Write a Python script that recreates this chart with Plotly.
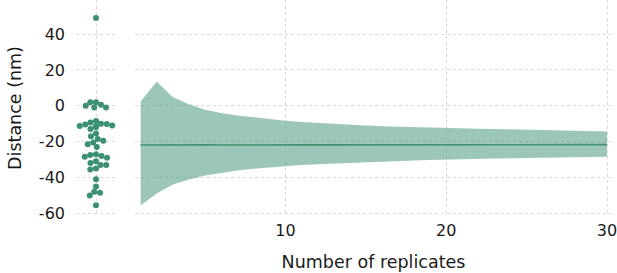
import numpy as np
import plotly.graph_objects as go

# ---- data ----
distances = [49, 2, 2, 0.5, 0, -1, -1,
             -8.5, -9.3, -10, -10.2, -10.5, -11, -11.3, -11.5, -12, -13,
             -15.5, -17, -18.5, -19.5, -20.5, -21.5, -23,
             -27, -27.5, -28, -28.5, -29, -31, -32, -33, -33, -35, -35.5,
             -41, -45, -48, -48.5, -50, -55.5]

replicates = list(range(1, 31))
upper = [2.4, 13.5, 4.8, 0.9, -2.2, -4.1, -5.4, -6.5, -7.5, -8.3,
         -9.0, -9.6, -10.1, -10.6, -11.0, -11.4, -11.7, -12.0, -12.2, -12.4,
         -12.6, -12.8, -13.0, -13.2, -13.4, -13.6, -13.8, -14.0, -14.2, -14.3]
lower = [-55.6, -48.9, -43.9, -41.1, -38.9, -37.4, -36.1, -35.2, -34.4, -33.7,
         -33.1, -32.6, -32.2, -31.8, -31.5, -31.2, -30.9, -30.6, -30.3, -30.0,
         -29.8, -29.6, -29.4, -29.3, -29.1, -29.0, -28.9, -28.8, -28.6, -28.5]
mean_line = [-21.9, -21.8, -21.9, -21.8, -21.8, -21.9, -21.8, -21.8, -21.8, -21.8,
             -21.8, -21.8, -21.8, -21.8, -21.8, -21.8, -21.8, -21.8, -21.8, -21.8,
             -21.8, -21.8, -21.8, -21.8, -21.8, -21.8, -21.8, -21.8, -21.7, -21.7]

y_ticks = [40, 20, 0, -20, -40, -60]
x_ticks = [10, 20, 30]

# ---- layout constants ----
W, H = 617, 273
ML, MR, MT, MB = 76, 5, 0, 57
plot_w = W - ML - MR
plot_h = H - MT - MB
y_range = [-61.5, 59]
left_px = 40
left_dom = [0, left_px / plot_w]
right_dom = [(135 - ML) / plot_w, 1.0]
px_per_unit_y = plot_h / (y_range[1] - y_range[0])
left_x_range = [-1, 1]
px_per_unit_x = left_px / (left_x_range[1] - left_x_range[0])

# ---- beeswarm layout (computed) ----
dot_d = 5.6
order = np.argsort(distances)[::-1]
placed = []
xs = np.zeros(len(distances))
cands = sorted(np.arange(-18, 18.01, 0.25), key=lambda v: (abs(v), v))
for i in order:
    ypx = distances[i] * px_per_unit_y
    for c in cands:
        ok = True
        for (px, py) in placed:
            if (px - c) ** 2 + (py - ypx) ** 2 < dot_d ** 2:
                ok = False
                break
        if ok:
            xs[i] = c
            placed.append((c, ypx))
            break
xs_units = xs / px_per_unit_x

green = "rgb(58,144,112)"
band = "rgba(58,144,112,0.5)"
grid = "#d9d9d9"
font = "DejaVu Sans"

fig = go.Figure()
fig.add_trace(go.Scatter(x=list(xs_units), y=distances, mode="markers",
                         marker=dict(color=green, size=6, line=dict(width=0)),
                         xaxis="x", yaxis="y", showlegend=False, cliponaxis=False))
fig.add_trace(go.Scatter(x=replicates, y=upper, mode="lines", line=dict(width=0),
                         xaxis="x2", yaxis="y2", showlegend=False))
fig.add_trace(go.Scatter(x=replicates, y=lower, mode="lines", line=dict(width=0),
                         fill="tonexty", fillcolor=band,
                         xaxis="x2", yaxis="y2", showlegend=False))
fig.add_trace(go.Scatter(x=replicates, y=mean_line, mode="lines",
                         line=dict(color="rgb(66,146,114)", width=1.6),
                         xaxis="x2", yaxis="y2", showlegend=False))

axis_common = dict(showline=False, zeroline=False, gridcolor=grid, griddash="dot",
                   gridwidth=1, automargin=False, ticklabeloverflow="allow",
                   tickfont=dict(family=font, size=16, color="#1a1a1a"))

fig.update_layout(
    width=W, height=H,
    margin=dict(l=ML, r=MR, t=MT, b=MB, autoexpand=False),
    paper_bgcolor="white", plot_bgcolor="white",
    font=dict(family=font, color="#1a1a1a"),
    xaxis=dict(domain=left_dom, range=left_x_range, tickvals=[0], ticktext=[""],
               showgrid=True, **axis_common),
    yaxis=dict(range=y_range, tickvals=y_ticks, ticktext=[str(v) for v in y_ticks],
               title=dict(text="Distance (nm)", font=dict(family=font, size=17.5), standoff=12),
               ticks="", ticklabelstandoff=10, **axis_common),
    xaxis2=dict(domain=right_dom, range=[0.65, 30.31], tickvals=x_ticks,
                ticktext=[str(v) for v in x_ticks], anchor="y2",
                title=dict(text="Number of replicates", font=dict(family=font, size=17.5), standoff=16),
                ticks="", ticklabelstandoff=3, **axis_common),
    yaxis2=dict(range=y_range, anchor="x2", tickvals=y_ticks, showticklabels=False,
                ticks="", **axis_common),
)

fig.write_html("out.html", config={"displayModeBar": False},
               post_script="document.body.style.margin='0';document.body.style.overflow='hidden';")
